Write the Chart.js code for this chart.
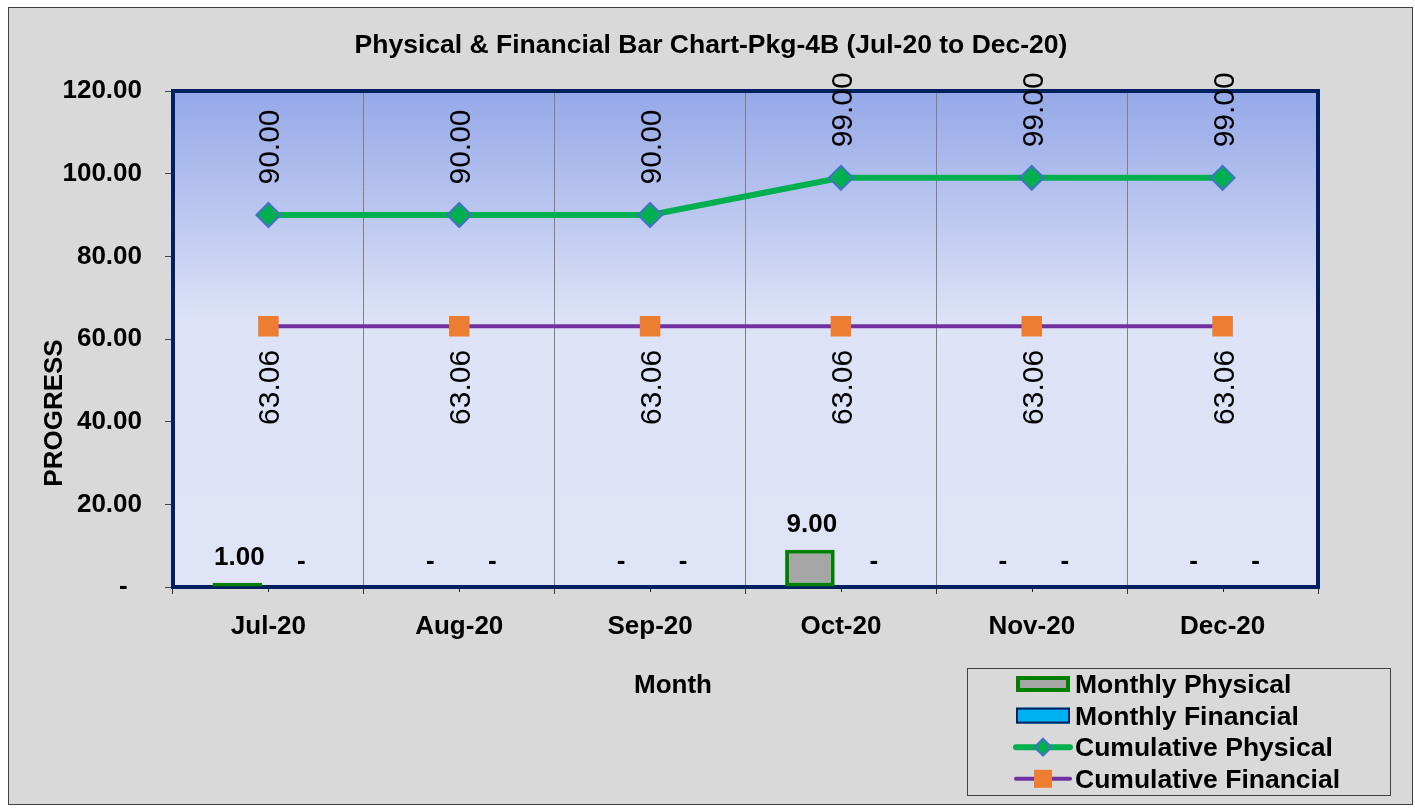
<!DOCTYPE html>
<html lang="en">
<head>
<meta charset="UTF-8">
<title>Physical & Financial Bar Chart-Pkg-4B</title>
<script src="https://cdn.jsdelivr.net/npm/chart.js"></script>
<style>
    html, body { margin: 0; padding: 0; background: #ffffff; }
    #progressChart { display: block; }
</style>
</head>
<body>
<canvas id="progressChart" width="1415" height="810"></canvas>
<script>
    // data
    const months = ['Jul-20', 'Aug-20', 'Sep-20', 'Oct-20', 'Nov-20', 'Dec-20'];
    const monthlyPhysical = [1.00, 0, 0, 9.00, 0, 0];
    const monthlyFinancial = [0, 0, 0, 0, 0, 0];
    const cumulativePhysical = [90.00, 90.00, 90.00, 99.00, 99.00, 99.00];
    const cumulativeFinancial = [63.06, 63.06, 63.06, 63.06, 63.06, 63.06];
    const yMin = 0, yMax = 120, yStep = 20;

    const chartTitle = 'Physical & Financial Bar Chart-Pkg-4B (Jul-20 to Dec-20)';
    const xTitle = 'Month';
    const yTitle = 'PROGRESS';

    const FONT = '"Liberation Sans", Arial, sans-serif';

    // Excel accounting style: zero shows as a dash
    function fmt(v) {
        return v === 0 ? '-' : v.toFixed(2);
    }

    const extras = {
        id: 'extras',
        beforeDraw(chart) {
            const { ctx, chartArea: a } = chart;
            ctx.save();
            // grey chart frame
            ctx.fillStyle = '#d9d9d9';
            ctx.fillRect(8, 7, 1405, 798);
            ctx.strokeStyle = '#404040';
            ctx.lineWidth = 1;
            ctx.strokeRect(8.5, 7.5, 1404, 797);
            // plot area gradient
            const g = ctx.createLinearGradient(0, a.top, 0, a.bottom);
            g.addColorStop(0, '#95a8e8');
            g.addColorStop(0.46, '#dde2f6');
            g.addColorStop(1, '#dfe4f7');
            ctx.fillStyle = g;
            ctx.fillRect(a.left, a.top, a.right - a.left, a.bottom - a.top);
            ctx.restore();
        },
        beforeDatasetsDraw(chart) {
            const { ctx, chartArea: a } = chart;
            const xs = chart.scales.x;
            ctx.save();
            // small ticks at category centres
            ctx.strokeStyle = '#222';
            ctx.lineWidth = 1;
            months.forEach((m, i) => {
                const x = Math.round(xs.getPixelForValue(i)) + 0.5;
                ctx.beginPath();
                ctx.moveTo(x, a.bottom);
                ctx.lineTo(x, a.bottom + 5);
                ctx.stroke();
            });
            // navy plot border
            ctx.strokeStyle = '#002060';
            ctx.lineWidth = 4;
            ctx.strokeRect(a.left, a.top, a.right - a.left, a.bottom - a.top);
            ctx.restore();
        },
        afterDatasetsDraw(chart) {
            const ctx = chart.ctx;
            ctx.save();
            ctx.fillStyle = '#000';
            // bar value labels
            [0, 1].forEach(di => {
                const vals = chart.data.datasets[di].data;
                chart.getDatasetMeta(di).data.forEach((bar, i) => {
                    ctx.font = 'bold 26px ' + FONT;
                    ctx.textAlign = 'center';
                    ctx.textBaseline = 'alphabetic';
                    ctx.fillText(fmt(vals[i]), bar.x + 2, bar.y - 18);
                });
            });
            // rotated line labels, above for physical, below for financial
            [[2, -68], [3, 61]].forEach(([di, off]) => {
                const vals = chart.data.datasets[di].data;
                chart.getDatasetMeta(di).data.forEach((pt, i) => {
                    ctx.save();
                    ctx.translate(pt.x + 11, pt.y + off);
                    ctx.rotate(-Math.PI / 2);
                    ctx.font = '30px ' + FONT;
                    ctx.textAlign = 'center';
                    ctx.textBaseline = 'alphabetic';
                    ctx.fillText(vals[i].toFixed(2), 0, 0);
                    ctx.restore();
                });
            });
            ctx.restore();
        },
        afterDraw(chart) {
            const ctx = chart.ctx;
            ctx.save();
            ctx.fillStyle = '#000';
            ctx.textBaseline = 'alphabetic';

            // title
            ctx.font = 'bold 26.5px ' + FONT;
            ctx.textAlign = 'center';
            ctx.fillText(chartTitle, 711, 53);
            // axis titles
            ctx.font = 'bold 26px ' + FONT;
            ctx.fillText(xTitle, 673, 693);
            ctx.save();
            ctx.translate(62, 413);
            ctx.rotate(-Math.PI / 2);
            ctx.fillText(yTitle, 0, 0);
            ctx.restore();

            // legend
            ctx.font = 'bold 26.5px ' + FONT;
            ctx.strokeStyle = '#404040';
            ctx.lineWidth = 1;
            ctx.strokeRect(967.5, 668.5, 423, 127);
            const rows = [693, 724.6, 756.2, 787.8];
            const sx0 = 1016, sx1 = 1070, sc = 1043;
            chart.data.datasets.forEach((ds, i) => {
                const base = rows[i];
                const cy = base - 9;
                if (ds.type === 'line') {
                    ctx.strokeStyle = ds.borderColor;
                    ctx.lineWidth = ds.borderWidth;
                    ctx.lineCap = 'round';
                    ctx.beginPath();
                    ctx.moveTo(sx0, cy);
                    ctx.lineTo(sx1, cy);
                    ctx.stroke();
                    ctx.fillStyle = ds.pointBackgroundColor;
                    ctx.strokeStyle = ds.pointBorderColor;
                    ctx.lineWidth = ds.pointBorderWidth;
                    ctx.beginPath();
                    if (ds.pointStyle === 'rectRot') {
                        const r = 8.5;
                        ctx.moveTo(sc, cy - r);
                        ctx.lineTo(sc + r, cy);
                        ctx.lineTo(sc, cy + r);
                        ctx.lineTo(sc - r, cy);
                        ctx.closePath();
                    } else {
                        ctx.rect(sc - 9, cy - 9, 18, 18);
                    }
                    ctx.fill();
                    if (ds.pointBorderWidth) ctx.stroke();
                } else {
                    const bw = ds.borderWidth;
                    ctx.fillStyle = ds.backgroundColor;
                    ctx.fillRect(sx0, cy - 8, sx1 - sx0, 16);
                    ctx.strokeStyle = ds.borderColor;
                    ctx.lineWidth = bw;
                    ctx.strokeRect(sx0 + bw / 2, cy - 8 + bw / 2, sx1 - sx0 - bw, 16 - bw);
                }
                ctx.fillStyle = '#000';
                ctx.textAlign = 'left';
                ctx.fillText(ds.label, 1075, base);
            });
            ctx.restore();
        }
    };

    const ctx = document.getElementById('progressChart').getContext('2d');

    const progressChart = new Chart(ctx, {
        type: 'bar',
        data: {
            labels: months,
            datasets: [{
                type: 'bar',
                label: 'Monthly Physical',
                data: monthlyPhysical,
                backgroundColor: '#a6a6a6',
                borderColor: '#008000',
                borderWidth: 4,
                borderSkipped: false,
                order: 2
            }, {
                type: 'bar',
                label: 'Monthly Financial',
                data: monthlyFinancial,
                backgroundColor: '#00b0f0',
                borderColor: '#002060',
                borderWidth: 2,
                borderSkipped: false,
                order: 2
            }, {
                type: 'line',
                label: 'Cumulative Physical',
                data: cumulativePhysical,
                borderColor: '#00b050',
                borderWidth: 6,
                tension: 0,
                pointStyle: 'rectRot',
                pointRadius: 12,
                pointBackgroundColor: '#00b050',
                pointBorderColor: '#4472c4',
                pointBorderWidth: 2,
                order: 1
            }, {
                type: 'line',
                label: 'Cumulative Financial',
                data: cumulativeFinancial,
                borderColor: '#7030a0',
                borderWidth: 4,
                tension: 0,
                pointStyle: 'rect',
                pointRadius: 14.5,
                pointBackgroundColor: '#ed7d31',
                pointBorderColor: '#ed7d31',
                pointBorderWidth: 0,
                order: 0
            }]
        },
        options: {
            responsive: false,
            animation: false,
            devicePixelRatio: 1,
            categoryPercentage: 0.65,
            barPercentage: 0.8,
            layout: {
                padding: { left: 20, top: 91, right: 97, bottom: 123 }
            },
            plugins: {
                legend: { display: false },
                title: { display: false },
                tooltip: { enabled: false }
            },
            scales: {
                x: {
                    offset: true,
                    afterFit(scale) { scale.height = 100; },
                    border: { display: false },
                    grid: {
                        offset: true,
                        color: '#808080',
                        lineWidth: 1,
                        tickColor: '#333',
                        tickLength: 7
                    },
                    ticks: {
                        color: '#000',
                        padding: 17,
                        maxRotation: 0,
                        font: { family: FONT, size: 26, weight: 'bold' }
                    }
                },
                y: {
                    min: yMin,
                    max: yMax,
                    afterFit(scale) { scale.width = 153; },
                    border: { display: false },
                    grid: {
                        drawOnChartArea: false,
                        tickColor: '#444',
                        tickLength: 8
                    },
                    ticks: {
                        stepSize: yStep,
                        color: '#000',
                        padding: 23,
                        font: { family: FONT, size: 26, weight: 'bold' },
                        callback: v => v === 0 ? '-  ' : v.toFixed(2)
                    }
                }
            }
        },
        plugins: [extras]
    });
</script>
</body>
</html>
